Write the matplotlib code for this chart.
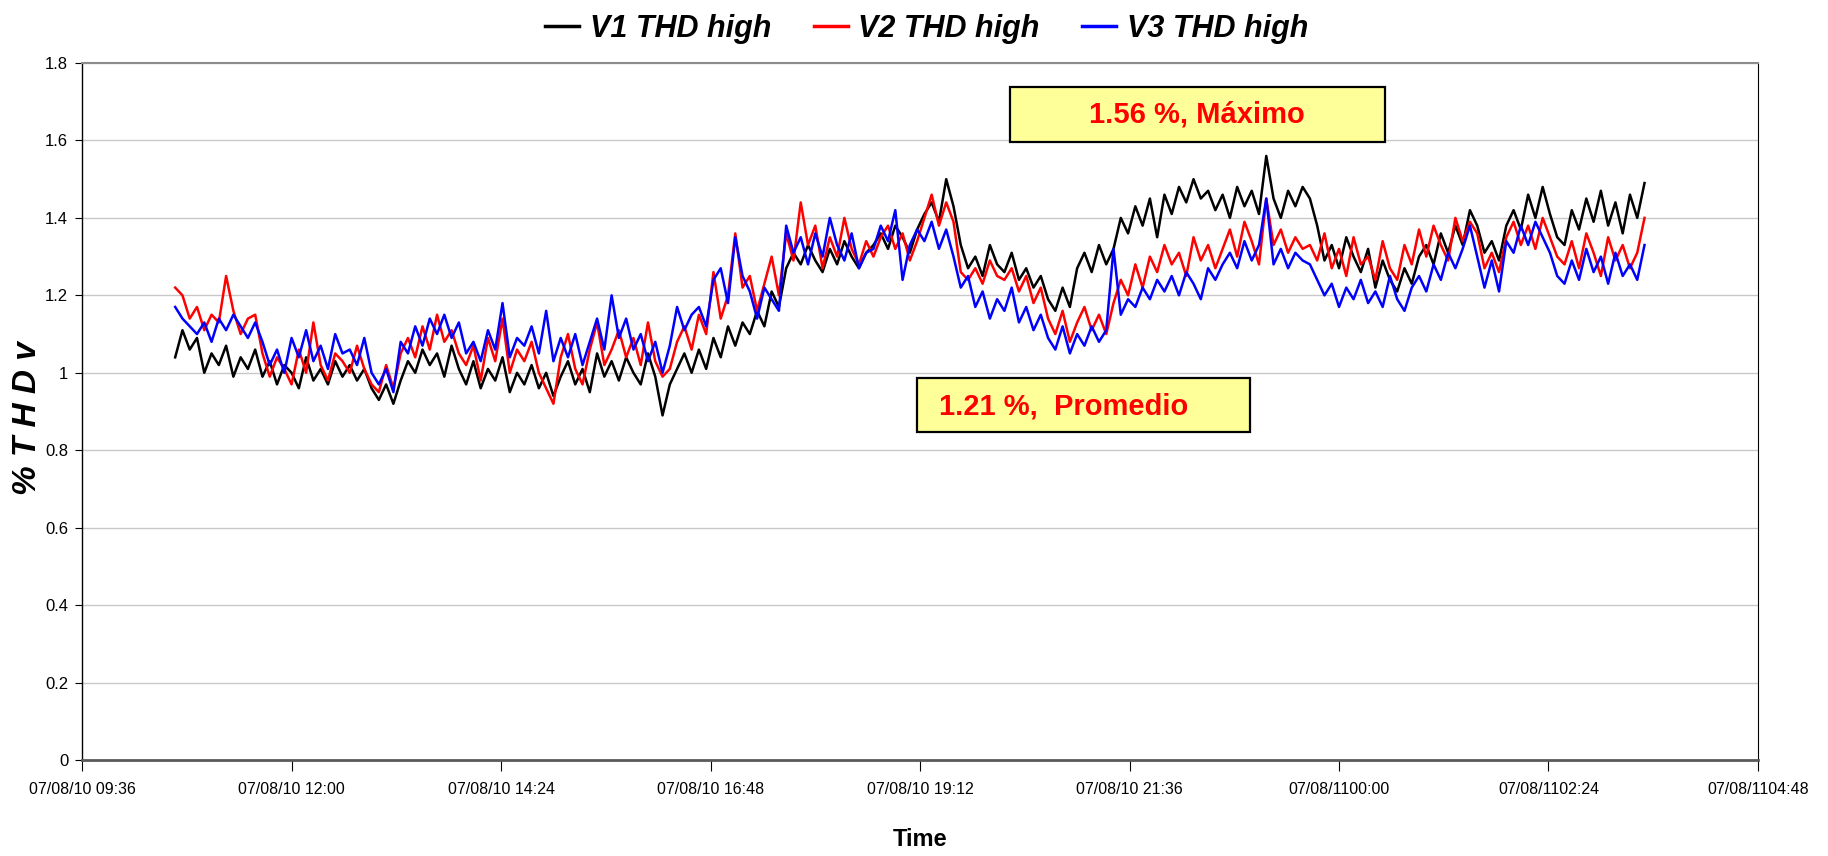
import numpy as np
import pandas as pd
import matplotlib
matplotlib.use("Agg")
import matplotlib.pyplot as plt
from matplotlib.patches import Rectangle

plt.rcParams["font.family"] = ["Liberation Sans", "DejaVu Sans"]

# 5-minute samples, 07/08/10 10:40 -> 07/08/11 03:30 (one row = one hour)
v1_thd = [
    1.04, 1.11, 1.06, 1.09, 1.00, 1.05, 1.02, 1.07, 0.99, 1.04, 1.01, 1.06,
    0.99, 1.03, 0.97, 1.02, 1.00, 0.96, 1.04, 0.98, 1.01, 0.97, 1.03, 0.99,
    1.02, 0.98, 1.01, 0.96, 0.93, 0.97, 0.92, 0.98, 1.03, 1.00, 1.06, 1.02,
    1.05, 0.99, 1.07, 1.01, 0.97, 1.03, 0.96, 1.01, 0.98, 1.04, 0.95, 1.00,
    0.97, 1.02, 0.96, 1.00, 0.94, 0.99, 1.03, 0.97, 1.01, 0.95, 1.05, 0.99,
    1.03, 0.98, 1.04, 1.00, 0.97, 1.05, 0.99, 0.89, 0.97, 1.01, 1.05, 1.00,
    1.06, 1.01, 1.09, 1.04, 1.12, 1.07, 1.13, 1.10, 1.16, 1.12, 1.21, 1.17,
    1.27, 1.31, 1.28, 1.33, 1.29, 1.26, 1.32, 1.28, 1.34, 1.30, 1.27, 1.31,
    1.33, 1.36, 1.32, 1.38, 1.35, 1.31, 1.37, 1.41, 1.44, 1.39, 1.50, 1.43,
    1.33, 1.27, 1.30, 1.25, 1.33, 1.28, 1.26, 1.31, 1.24, 1.27, 1.22, 1.25,
    1.19, 1.16, 1.22, 1.17, 1.27, 1.31, 1.26, 1.33, 1.28, 1.32, 1.40, 1.36,
    1.43, 1.38, 1.45, 1.35, 1.46, 1.41, 1.48, 1.44, 1.50, 1.45, 1.47, 1.42,
    1.46, 1.40, 1.48, 1.43, 1.47, 1.41, 1.56, 1.45, 1.40, 1.47, 1.43, 1.48,
    1.45, 1.38, 1.29, 1.33, 1.27, 1.35, 1.30, 1.26, 1.32, 1.22, 1.29, 1.24,
    1.21, 1.27, 1.23, 1.30, 1.33, 1.28, 1.36, 1.31, 1.38, 1.33, 1.42, 1.38,
    1.31, 1.34, 1.29, 1.38, 1.42, 1.37, 1.46, 1.40, 1.48, 1.41, 1.35, 1.33,
    1.42, 1.37, 1.45, 1.39, 1.47, 1.38, 1.44, 1.36, 1.46, 1.40, 1.49,
]
v2_thd = [
    1.22, 1.20, 1.14, 1.17, 1.11, 1.15, 1.13, 1.25, 1.16, 1.10, 1.14, 1.15,
    1.05, 0.99, 1.04, 1.01, 0.97, 1.06, 1.00, 1.13, 1.02, 0.98, 1.05, 1.03,
    1.00, 1.07, 1.01, 0.97, 0.95, 1.02, 0.96, 1.05, 1.09, 1.04, 1.12, 1.06,
    1.15, 1.08, 1.11, 1.05, 1.02, 1.07, 0.98, 1.09, 1.03, 1.14, 1.00, 1.06,
    1.03, 1.08, 1.00, 0.96, 0.92, 1.04, 1.10, 1.01, 0.97, 1.06, 1.13, 1.02,
    1.06, 1.11, 1.04, 1.09, 1.02, 1.13, 1.03, 0.99, 1.01, 1.08, 1.12, 1.06,
    1.15, 1.10, 1.26, 1.14, 1.20, 1.36, 1.22, 1.25, 1.16, 1.23, 1.30, 1.20,
    1.36, 1.29, 1.44, 1.33, 1.38, 1.27, 1.35, 1.30, 1.40, 1.32, 1.28, 1.34,
    1.30, 1.35, 1.38, 1.32, 1.36, 1.29, 1.34, 1.40, 1.46, 1.38, 1.44, 1.39,
    1.26, 1.24, 1.27, 1.23, 1.29, 1.25, 1.24, 1.27, 1.21, 1.25, 1.18, 1.22,
    1.14, 1.10, 1.16, 1.08, 1.13, 1.17, 1.11, 1.15, 1.10, 1.18, 1.24, 1.20,
    1.28, 1.22, 1.30, 1.26, 1.33, 1.28, 1.31, 1.25, 1.35, 1.29, 1.33, 1.27,
    1.32, 1.37, 1.30, 1.39, 1.34, 1.28, 1.45, 1.33, 1.37, 1.31, 1.35, 1.32,
    1.33, 1.29, 1.36, 1.27, 1.32, 1.25, 1.35, 1.28, 1.30, 1.24, 1.34, 1.27,
    1.24, 1.33, 1.28, 1.37, 1.30, 1.38, 1.33, 1.29, 1.40, 1.34, 1.39, 1.36,
    1.27, 1.31, 1.26, 1.35, 1.39, 1.33, 1.38, 1.32, 1.40, 1.35, 1.30, 1.28,
    1.34, 1.27, 1.36, 1.31, 1.25, 1.35, 1.29, 1.33, 1.27, 1.31, 1.40,
]
v3_thd = [
    1.17, 1.14, 1.12, 1.10, 1.13, 1.08, 1.14, 1.11, 1.15, 1.12, 1.09, 1.13,
    1.08, 1.02, 1.06, 1.00, 1.09, 1.04, 1.11, 1.03, 1.07, 1.01, 1.10, 1.05,
    1.06, 1.02, 1.09, 1.00, 0.97, 1.01, 0.95, 1.08, 1.05, 1.12, 1.07, 1.14,
    1.10, 1.15, 1.09, 1.13, 1.05, 1.08, 1.03, 1.11, 1.06, 1.18, 1.04, 1.09,
    1.07, 1.12, 1.05, 1.16, 1.03, 1.09, 1.04, 1.10, 1.02, 1.08, 1.14, 1.06,
    1.20, 1.09, 1.14, 1.06, 1.10, 1.03, 1.08, 1.00, 1.07, 1.17, 1.11, 1.15,
    1.17, 1.12, 1.24, 1.27, 1.18, 1.35, 1.25, 1.21, 1.14, 1.22, 1.19, 1.16,
    1.38, 1.31, 1.35, 1.28, 1.36, 1.30, 1.40, 1.33, 1.29, 1.36, 1.27, 1.31,
    1.32, 1.38, 1.34, 1.42, 1.24, 1.33, 1.37, 1.34, 1.39, 1.32, 1.37, 1.30,
    1.22, 1.25, 1.17, 1.21, 1.14, 1.19, 1.16, 1.22, 1.13, 1.17, 1.11, 1.15,
    1.09, 1.06, 1.12, 1.05, 1.10, 1.07, 1.12, 1.08, 1.11, 1.32, 1.15, 1.19,
    1.17, 1.22, 1.19, 1.24, 1.21, 1.25, 1.20, 1.26, 1.23, 1.19, 1.27, 1.24,
    1.28, 1.31, 1.27, 1.34, 1.29, 1.33, 1.45, 1.28, 1.32, 1.27, 1.31, 1.29,
    1.28, 1.24, 1.20, 1.23, 1.17, 1.22, 1.19, 1.24, 1.18, 1.21, 1.17, 1.25,
    1.19, 1.16, 1.22, 1.25, 1.21, 1.28, 1.24, 1.31, 1.27, 1.32, 1.38, 1.30,
    1.22, 1.29, 1.21, 1.34, 1.31, 1.38, 1.33, 1.39, 1.35, 1.31, 1.25, 1.23,
    1.29, 1.24, 1.32, 1.26, 1.30, 1.23, 1.31, 1.25, 1.28, 1.24, 1.33,
]

series_names = ["V1 THD high", "V2 THD high", "V3 THD high"]
series_colors = ["#000000", "#ff0000", "#0000ff"]

x_tick_labels = [
    "07/08/10 09:36", "07/08/10 12:00", "07/08/10 14:24", "07/08/10 16:48",
    "07/08/10 19:12", "07/08/10 21:36", "07/08/1100:00", "07/08/1102:24",
    "07/08/1104:48",
]
y_ticks = [0, 0.2, 0.4, 0.6, 0.8, 1.0, 1.2, 1.4, 1.6, 1.8]

max_label = "1.56 %, Máximo"
avg_label = "1.21 %,  Promedio"

times = pd.date_range("2007-08-10 10:40", periods=len(v1_thd), freq="5min")
tick_times = pd.date_range("2007-08-10 09:36", periods=len(x_tick_labels), freq="144min")

fig = plt.figure(figsize=(18.28, 8.56), dpi=100)
ax = fig.add_axes([0.0449, 0.1121, 0.9168, 0.8143])

for vals, name, col in zip([v1_thd, v2_thd, v3_thd], series_names, series_colors):
    ax.plot(times, vals, color=col, linewidth=1.8, label=name)

ax.set_xlim(tick_times[0], tick_times[-1])
ax.set_ylim(0, 1.8)
ax.set_xticks(tick_times)
ax.set_xticklabels(x_tick_labels, fontsize=11.5)
ax.set_yticks(y_ticks)
ax.set_yticklabels([f"{v:g}" for v in y_ticks], fontsize=12)
ax.tick_params(axis="x", length=8, width=0.8, pad=8)
ax.tick_params(axis="y", length=5, width=0.8, pad=5)

ax.grid(axis="y", color="#c8c8c8", linewidth=1)
ax.set_axisbelow(True)
ax.spines["top"].set_color("#8c8c8c")
ax.spines["top"].set_linewidth(1.5)
ax.spines["bottom"].set_color("#5a5a5a")
ax.spines["bottom"].set_linewidth(2)
ax.spines["left"].set_linewidth(1)
ax.spines["right"].set_linewidth(0.8)

ax.set_xlabel("Time", fontsize=17, fontweight="bold", labelpad=22)
ax.set_ylabel("% T H D v", fontsize=24, fontweight="bold", style="italic")
ax.yaxis.set_label_coords(-0.0235, 0.49)

leg = fig.legend(
    loc="center", bbox_to_anchor=(0.507, 0.966), ncol=3, frameon=False,
    prop={"size": 22, "weight": "bold", "style": "italic"},
    handlelength=1.1, handletextpad=0.35, columnspacing=1.4,
)
for line in leg.get_lines():
    line.set_linewidth(2.5)

# annotation boxes
boxes = [
    (max_label, 0.5537, 0.8867, 0.2238, 0.0789, 0.6653, 0.9261),
    (avg_label, 0.4982, 0.4706, 0.1987, 0.0774, 0.5856, 0.5065),
]
for text, bx, by, bw, bh, tx, ty in boxes:
    ax.add_patch(Rectangle((bx, by), bw, bh, transform=ax.transAxes,
                           facecolor="#ffff99", edgecolor="black",
                           linewidth=1.6, zorder=5))
    ax.text(tx, ty, text, transform=ax.transAxes, ha="center", va="center",
            color="#ff0000", fontsize=21, fontweight="bold", zorder=6)

fig.savefig("out.png", dpi=100)
plt.close(fig)
